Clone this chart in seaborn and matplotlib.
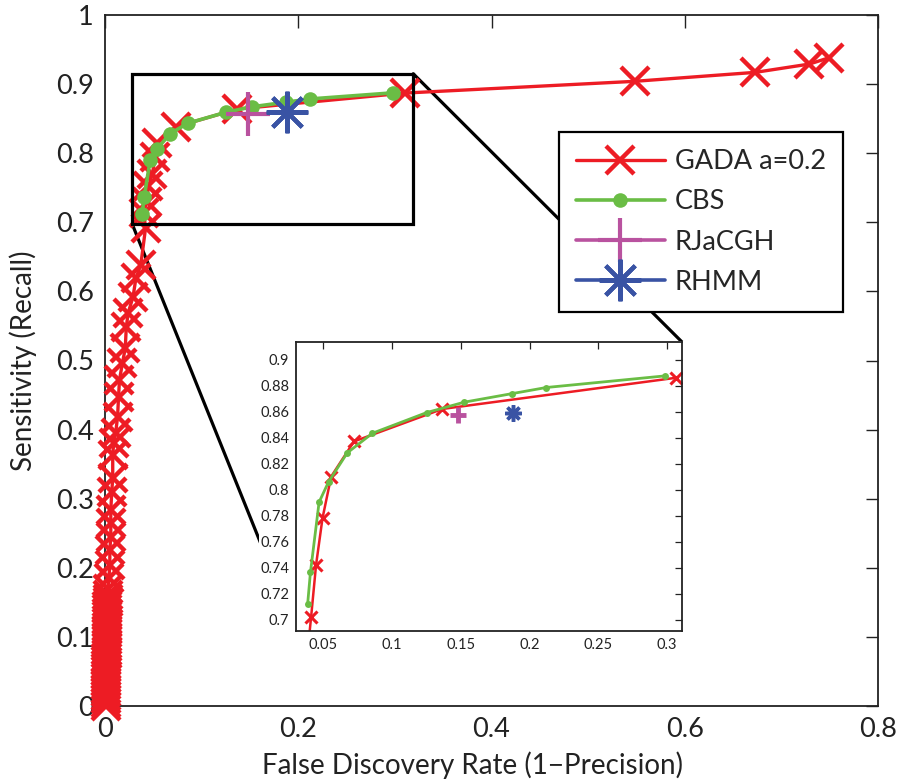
import numpy as np
import pandas as pd
import matplotlib
matplotlib.use("Agg")
import matplotlib.pyplot as plt
import seaborn as sns
from matplotlib.patches import Rectangle, ConnectionPatch

# ---------------- data ----------------
gada_fdr = [0.001, 0.001, 0.001, 0.001, 0.001, 0.0011, 0.0011, 0.0012, 0.0012, 0.0013,
            0.0013, 0.0014, 0.0014, 0.0015, 0.0015, 0.0016, 0.0016, 0.0017, 0.0017, 0.0018,
            0.0018, 0.0019, 0.0019, 0.002, 0.002, 0.0021, 0.0022, 0.0023, 0.0024, 0.0025,
            0.0026, 0.0027, 0.0028, 0.003, 0.004,
            0.005, 0.005, 0.006, 0.006, 0.006, 0.007, 0.008, 0.008, 0.009, 0.011,
            0.013, 0.014, 0.015, 0.018, 0.021, 0.022, 0.024, 0.029, 0.032, 0.037,
            0.042, 0.040, 0.043, 0.045, 0.049, 0.052, 0.054, 0.073, 0.137, 0.310,
            0.548, 0.673, 0.729, 0.749]
gada_sens = [0.0, 0.005, 0.01, 0.015, 0.02, 0.025, 0.03, 0.035, 0.04, 0.045,
             0.05, 0.055, 0.06, 0.065, 0.07, 0.075, 0.08, 0.085, 0.09, 0.095,
             0.10, 0.105, 0.11, 0.115, 0.12, 0.125, 0.13, 0.135, 0.14, 0.145,
             0.15, 0.155, 0.16, 0.17, 0.185,
             0.204, 0.226, 0.245, 0.265, 0.284, 0.310, 0.330, 0.363, 0.381, 0.395,
             0.418, 0.447, 0.472, 0.496, 0.518, 0.548, 0.569, 0.592, 0.619, 0.638,
             0.660, 0.692, 0.713, 0.730, 0.752, 0.770, 0.795, 0.815, 0.838, 0.864,
             0.887, 0.904, 0.917, 0.929, 0.938]
gada_sens = gada_sens[:55] + gada_sens[56:]

cbs_fdr = [0.0385, 0.0405, 0.0468, 0.0537, 0.0673, 0.0856, 0.1251, 0.1524, 0.1873, 0.2122, 0.2983]
cbs_sens = [0.7123, 0.7362, 0.7903, 0.8059, 0.8282, 0.8433, 0.8592, 0.8672, 0.8738, 0.8785, 0.8874]

rjacgh_fdr = [0.148]
rjacgh_sens = [0.857]
rhmm_fdr = [0.188]
rhmm_sens = [0.859]

gada_zoom_fdr = [0.037, 0.041, 0.0446, 0.0493, 0.0556, 0.0722, 0.1366, 0.3068]
gada_zoom_sens = [0.660, 0.702, 0.742, 0.778, 0.810, 0.837, 0.862, 0.886]

labels = ["GADA a=0.2", "CBS", "RJaCGH", "RHMM"]
main_xticks = [0, 0.2, 0.4, 0.6, 0.8]
main_xticklabels = ["0", "0.2", "0.4", "0.6", "0.8"]
main_yticks = [0, 0.1, 0.2, 0.3, 0.4, 0.5, 0.6, 0.7, 0.8, 0.9, 1.0]
main_yticklabels = ["0", "0.1", "0.2", "0.3", "0.4", "0.5", "0.6", "0.7", "0.8", "0.9", "1"]
inset_xticks = [0.05, 0.1, 0.15, 0.2, 0.25, 0.3]
inset_xticklabels = ["0.05", "0.1", "0.15", "0.2", "0.25", "0.3"]
inset_yticks = [0.7, 0.72, 0.74, 0.76, 0.78, 0.8, 0.82, 0.84, 0.86, 0.88, 0.9]
inset_yticklabels = ["0.7", "0.72", "0.74", "0.76", "0.78", "0.8", "0.82", "0.84", "0.86", "0.88", "0.9"]

RED = "#ED1C24"
GREEN = "#6ABD45"
PINK = "#B9529F"
BLUE = "#3953A4"

# ---------------- style ----------------
sns.set_theme(style="white")
plt.rcParams["font.family"] = ["Lato", "DejaVu Sans"]
plt.rcParams["axes.edgecolor"] = "#222222"
plt.rcParams["xtick.color"] = "#222222"
plt.rcParams["ytick.color"] = "#222222"

fig = plt.figure(figsize=(9.07, 7.84), dpi=100)
ax = fig.add_axes([105 / 907, 1 - 706 / 784, (878 - 105) / 907, (706 - 15) / 784])


def draw(axis, x, y, color, **kw):
    sns.lineplot(x=x, y=y, sort=False, estimator=None, ax=axis, color=color,
                 markeredgecolor=color, markerfacecolor=color, **kw)


draw(ax, gada_fdr, gada_sens, RED, lw=2.4, marker="x", markersize=20,
     markeredgewidth=3.2, label=labels[0], clip_on=False, zorder=3)
draw(ax, cbs_fdr, cbs_sens, GREEN, lw=2.6, marker="o", markersize=10.5,
     markeredgewidth=0, label=labels[1], zorder=3.1)
draw(ax, rjacgh_fdr, rjacgh_sens, PINK, lw=2.6, marker="+", markersize=32,
     markeredgewidth=3, label=labels[2], zorder=3.2)
draw(ax, rhmm_fdr, rhmm_sens, BLUE, lw=2.6, marker=(8, 2, 0), markersize=30,
     markeredgewidth=3, label=labels[3], zorder=3.3)

ax.set_xlim(0, 0.8)
ax.set_ylim(0, 1)
ax.set_xticks(main_xticks)
ax.set_xticklabels(main_xticklabels)
ax.set_yticks(main_yticks)
ax.set_yticklabels(main_yticklabels)
ax.tick_params(direction="in", top=True, right=True, length=9, width=1.0,
               labelsize=19.5, pad=8)
for s in ax.spines.values():
    s.set_linewidth(1.3)
    s.set_visible(True)
ax.set_xlabel("False Discovery Rate (1\u2212Precision)", fontsize=20, color="#222222")
ax.set_ylabel("Sensitivity (Recall)", fontsize=20, color="#222222")
ax.xaxis.set_label_coords(0.476, -0.065)
ax.yaxis.set_label_coords(-0.088, 0.5)

# zoom rectangle
rx0, rx1, ry0, ry1 = 0.028, 0.319, 0.698, 0.915
ax.add_patch(Rectangle((rx0, ry0), rx1 - rx0, ry1 - ry0, fill=False, edgecolor="black",
                       lw=2.3, zorder=5))

leg = ax.legend(loc="upper left", bbox_to_anchor=(0.587, 0.830), fontsize=19.5,
                frameon=True, fancybox=False, framealpha=1, edgecolor="black",
                handlelength=3.3, handletextpad=0.37, labelspacing=0.56,
                borderpad=0.62, borderaxespad=0)
leg.get_frame().set_linewidth(1.6)
leg.set_zorder(6)

# ---------------- inset ----------------
axin = fig.add_axes([296 / 907, 1 - 631 / 784, (682 - 296) / 907, (631 - 342) / 784])
axin.add_patch(Rectangle((-0.095, -0.075), 1.1, 1.08, transform=axin.transAxes,
                         facecolor="white", edgecolor="none", zorder=-10, clip_on=False))
draw(axin, gada_zoom_fdr, gada_zoom_sens, RED, lw=1.8, marker="x", markersize=9,
     markeredgewidth=2.2, legend=False)
draw(axin, cbs_fdr, cbs_sens, GREEN, lw=2.0, marker="o", markersize=5,
     markeredgewidth=0, legend=False)
draw(axin, rjacgh_fdr, rjacgh_sens, PINK, lw=0, marker="+", markersize=12,
     markeredgewidth=3.5, legend=False)
draw(axin, rhmm_fdr, rhmm_sens, BLUE, lw=0, marker=(8, 2, 0), markersize=12,
     markeredgewidth=2.5, legend=False)
axin.set_xlim(0.03, 0.311)
axin.set_ylim(0.6912, 0.9135)
axin.set_xticks(inset_xticks)
axin.set_xticklabels(inset_xticklabels)
axin.set_yticks(inset_yticks)
axin.set_yticklabels(inset_yticklabels)
axin.tick_params(direction="in", top=True, right=True, length=5, width=0.9,
                 labelsize=10.5, pad=5)
for s in axin.spines.values():
    s.set_linewidth(1.3)
    s.set_visible(True)

# connector lines
for xyA, xyB in [((rx0, ry0), (0, 0)), ((rx1, ry1), (1, 1))]:
    con = ConnectionPatch(xyA=xyA, coordsA=ax.transData, xyB=xyB, coordsB=axin.transAxes,
                          color="black", lw=2.3)
    ax.add_artist(con)

fig.savefig("out.png", dpi=100)
